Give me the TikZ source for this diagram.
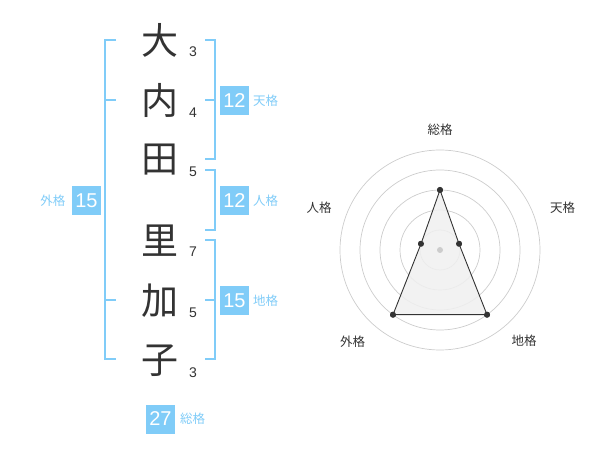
\documentclass[tikz,border=0pt]{standalone}
\usepackage{fontspec}
\setmainfont{Liberation Sans}
\newfontfamily\cjk{Noto Sans CJK JP}
\definecolor{sky}{HTML}{80CCF8}
\definecolor{ink}{HTML}{333333}
\definecolor{polyfill}{HTML}{F0F0F0}
\begin{document}
\begin{tikzpicture}[x=1pt,y=-1pt,
  kanji/.style={font=\cjk\fontsize{37}{37}\selectfont, text=ink, inner sep=0pt},
  strk/.style={font=\fontsize{14}{14}\selectfont, text=ink, inner sep=0pt},
  badge/.style={fill=sky, text=white, minimum width=29pt, minimum height=29pt, inner sep=0pt, font=\fontsize{20}{20}\selectfont},
  kaku/.style={font=\cjk\fontsize{12.5}{12.5}\selectfont, text=sky, inner sep=0pt},
  brk/.style={draw=sky, line width=2.5pt},
  ring/.style={draw=black!20, line width=0.7pt},
  dot/.style={circle, fill=ink, inner sep=0pt, minimum size=6pt},
  axislbl/.style={font=\cjk\fontsize{12.5}{12.5}\selectfont, text=ink, inner sep=0pt}]
\useasboundingbox (0,0) rectangle (600,470);
% kanji
\node[kanji] (k1) at (160,40) {大};
\node[kanji] (k2) at (160,100) {内};
\node[kanji] (k3) at (160,160) {田};
\node[kanji] (k4) at (160,241) {里};
\node[kanji] (k5) at (160,301) {加};
\node[kanji] (k6) at (160,361) {子};
% stroke counts
\node[strk] (s1) at (193,52) {3};
\node[strk] (s2) at (193,113) {4};
\node[strk] (s3) at (193,172) {5};
\node[strk] (s4) at (193,252) {7};
\node[strk] (s5) at (193,313) {5};
\node[strk] (s6) at (193,373) {3};
% brackets
\draw[brk] (116,40) -- (105,40) -- (105,359) -- (116,359);
\draw[brk] (105,100) -- (116,100);
\draw[brk] (105,300) -- (116,300);
\draw[brk] (205,40) -- (215,40) -- (215,159) -- (205,159);
\draw[brk] (205,100) -- (215,100);
\draw[brk] (205,170) -- (215,170) -- (215,230) -- (205,230);
\draw[brk] (205,240) -- (215,240) -- (215,359) -- (205,359);
\draw[brk] (205,300) -- (215,300);
% badges
\node[badge] (bten) at (234.5,100.5) {12};
\node[kaku, anchor=west] (lten) at (253,100.5) {天格};
\node[badge] (bjin) at (234.5,200.5) {12};
\node[kaku, anchor=west] (ljin) at (253,200.5) {人格};
\node[badge] (bchi) at (234.5,300.5) {15};
\node[kaku, anchor=west] (lchi) at (253,300.5) {地格};
\node[badge] (bgai) at (86.5,200.5) {15};
\node[kaku, anchor=east] (lgai) at (65.5,200.5) {外格};
\node[badge] (bso) at (160.5,419) {27};
\node[kaku, anchor=west] (lso) at (180,419) {総格};
% radar
\coordinate (c) at (440,250);
\foreach \r in {20,40,60,80,100} \draw[ring] (c) circle[radius=\r];
\node[dot] (pso) at (440,190) {};
\node[dot] (pten) at (459.0,243.8) {};
\node[dot] (pchi) at (487.0,314.7) {};
\node[dot] (pgai) at (393.0,314.7) {};
\node[dot] (pjin) at (421.0,243.8) {};
\fill[polyfill, opacity=0.85] (pso.center) -- (pten.center) -- (pchi.center) -- (pgai.center) -- (pjin.center) -- cycle;
\draw[ink, line width=0.9pt] (pso.center) -- (pten.center) -- (pchi.center) -- (pgai.center) -- (pjin.center) -- cycle;
\node[dot] at (pso) {};
\node[dot] at (pten) {};
\node[dot] at (pchi) {};
\node[dot] at (pgai) {};
\node[dot] at (pjin) {};
\node[circle, fill=black!20, inner sep=0pt, minimum size=6pt] (pc) at (c) {};
\node[axislbl] (aso) at (440,130) {総格};
\node[axislbl] (aten) at (562.5,208) {天格};
\node[axislbl] (achi) at (524,341) {地格};
\node[axislbl] (agai) at (352.5,342) {外格};
\node[axislbl] (ajin) at (319,208) {人格};
\end{tikzpicture}
\end{document}
